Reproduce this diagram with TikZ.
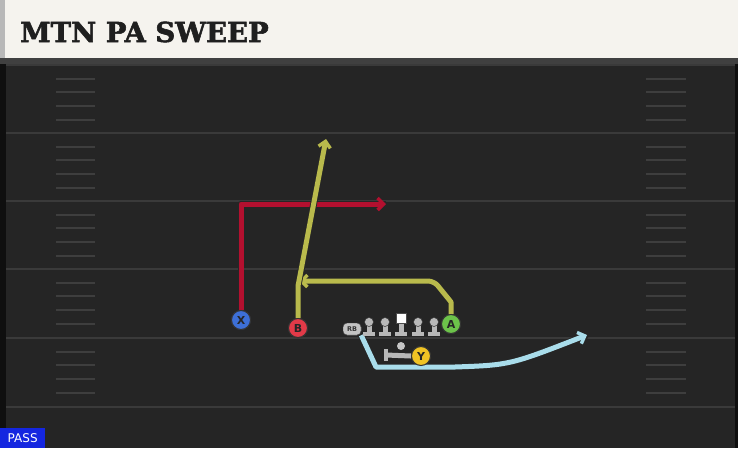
\documentclass[tikz,border=0pt]{standalone}
\usepackage{fontspec}
\newfontfamily\titlefont{DejaVu Serif}[BoldFeatures={FakeBold=2}]
\newfontfamily\labelfont{DejaVu Sans}
\usetikzlibrary{arrows.meta}
\definecolor{field}{HTML}{252525}
\definecolor{fline}{HTML}{3A3A3A}
\definecolor{hashc}{HTML}{3E3E3E}
\definecolor{cream}{HTML}{F5F3EE}
\definecolor{redroute}{HTML}{B3102F}
\definecolor{yelroute}{HTML}{B9BA4C}
\definecolor{blueroute}{HTML}{A9DDEB}
\definecolor{xblue}{HTML}{3D6FD6}
\definecolor{bred}{HTML}{E23A48}
\definecolor{agreen}{HTML}{6CC34A}
\definecolor{yyel}{HTML}{F0C324}
\definecolor{olgray}{HTML}{B8B8B8}
\definecolor{passblue}{HTML}{1426E0}
\tikzset{
  fieldline/.style={draw=fline, line width=2pt},
  hashmark/.style={draw=hashc, line width=1.6pt},
  routeunder/.style={draw=black!85, line width=6.8pt, line join=round},
  route/.style={line width=5pt, line join=round},
  player/.style={circle, draw=black!80, line width=1pt, minimum size=19pt, inner sep=0pt,
     font=\labelfont\bfseries\fontsize{11}{11}\selectfont, text=black!85},
  lmstyle/.style={draw=olgray, line width=5pt},
  lmbase/.style={draw=olgray, line width=4pt},
  tip/.style={-{Straight Barb[length=6pt,width=12pt,line width=3.4pt]}},
  rbstyle/.style={draw=black!80, fill=olgray!85, rounded corners=4pt, minimum width=18pt, minimum height=12pt, inner sep=0pt,
     font=\labelfont\bfseries\fontsize{6.5}{6.5}\selectfont, text=black!80},
}
\begin{document}
\begin{tikzpicture}[x=1pt,y=-1pt]
\useasboundingbox (0,0) rectangle (738,448);
% field
\fill[field] (0,0) rectangle (738,448);
\fill[black!75] (0,58) rectangle (738,64);
\fill[black!60!field] (0,64) rectangle (6,448);
\fill[black!60!field] (735,64) rectangle (738,448);
% title bar
\fill[cream] (0,0) rectangle (738,58);
\fill[olgray] (0,0) rectangle (5,58);
\node[anchor=west, inner sep=0pt, font=\titlefont\bfseries\fontsize{27.5}{27.5}\selectfont, text=black!88] (title) at (20,32) {MTN PA SWEEP};
% field lines
\foreach \yy in {65,133,201,269,338,407} { \draw[fieldline] (6,\yy) -- (735,\yy); }
% hash marks
\foreach \base in {65,133,201,269,338} {
  \foreach \off in {14,27,41,55} {
    \draw[hashmark] (56,\base+\off) -- (95,\base+\off);
    \draw[hashmark] (646,\base+\off) -- (686,\base+\off);
  }
}
% coordinates for routes
\coordinate (xturn) at (241,204);
\coordinate (xend) at (386,204);
\coordinate (bturn) at (298,286);
\coordinate (bend) at (326,139);
\coordinate (aup) at (451,302);
\coordinate (acorner) at (434,281);
\coordinate (aend) at (299,281);
\coordinate (rbdown) at (376,367);
\coordinate (rbmid) at (455,367);
\coordinate (rbend) at (587,335);
% players
\node[player, fill=xblue] (X) at (241,320) {X};
\node[player, fill=bred] (B) at (298,328) {B};
\node[player, fill=agreen] (A) at (451,324) {A};
\node[player, fill=yyel] (Y) at (421,356) {Y};
\node[rbstyle] (RB) at (352,329) {RB};
% routes (under, then colour)
\draw[routeunder] (X.north) -- (xturn) -- (xend);
\draw[route, draw=redroute, tip] (X.north) -- (xturn) -- (xend);
\draw[routeunder] (A.north) -- (aup) -- (acorner) -- (aend);
\draw[route, draw=yelroute, tip] (A.north) -- (aup) [rounded corners=6pt] -- (acorner) -- (aend);
\draw[routeunder] (B.north) -- (bturn) -- (bend);
\draw[route, draw=yelroute, tip] (B.north) -- (bturn) -- (bend);
\draw[routeunder] (RB.south east) -- (rbdown) -- (rbmid) .. controls (510,365) .. (rbend);
\draw[route, draw=blueroute, tip] (RB.south east) -- (rbdown) -- (rbmid) .. controls (510,365) .. (rbend);
% redraw players on top
\node[player, fill=xblue] at (X) {X};
\node[player, fill=bred] at (B) {B};
\node[player, fill=agreen] at (A) {A};
\node[rbstyle] at (RB) {RB};
% offensive line
\foreach \lx/\nm in {369/lt,385/lg,418/rg,434/rt} {
  \draw[lmstyle] (\lx,324) -- (\lx,333);
  \draw[lmbase] (\lx-6,334) -- (\lx+6,334);
  \node[circle, fill=olgray, draw=black!80, line width=0.5pt, minimum size=9pt, inner sep=0pt] (\nm) at (\lx,322) {};
}
\draw[lmstyle] (401,320) -- (401,333);
\draw[lmbase] (395,334) -- (407,334);
\node[rectangle, fill=white, draw=black!70, line width=0.5pt, minimum size=10pt, inner sep=0pt] (C) at (401,318) {};
% QB
\node[circle, fill=olgray!80, minimum size=8pt, inner sep=0pt] (QB) at (401,346) {};
\coordinate (qbl) at (386,355);
\draw[lmbase] (386,349) -- (386,361);
\draw[lmstyle] (qbl) -- (Y.west);
\node[player, fill=yyel] at (Y) {Y};
% PASS label
\node[anchor=south west, fill=passblue, text=white, inner sep=2.5pt, minimum width=45pt, minimum height=20pt,
  font=\labelfont\fontsize{12}{12}\selectfont] (pass) at (0,448) {PASS};
\end{tikzpicture}
\end{document}
